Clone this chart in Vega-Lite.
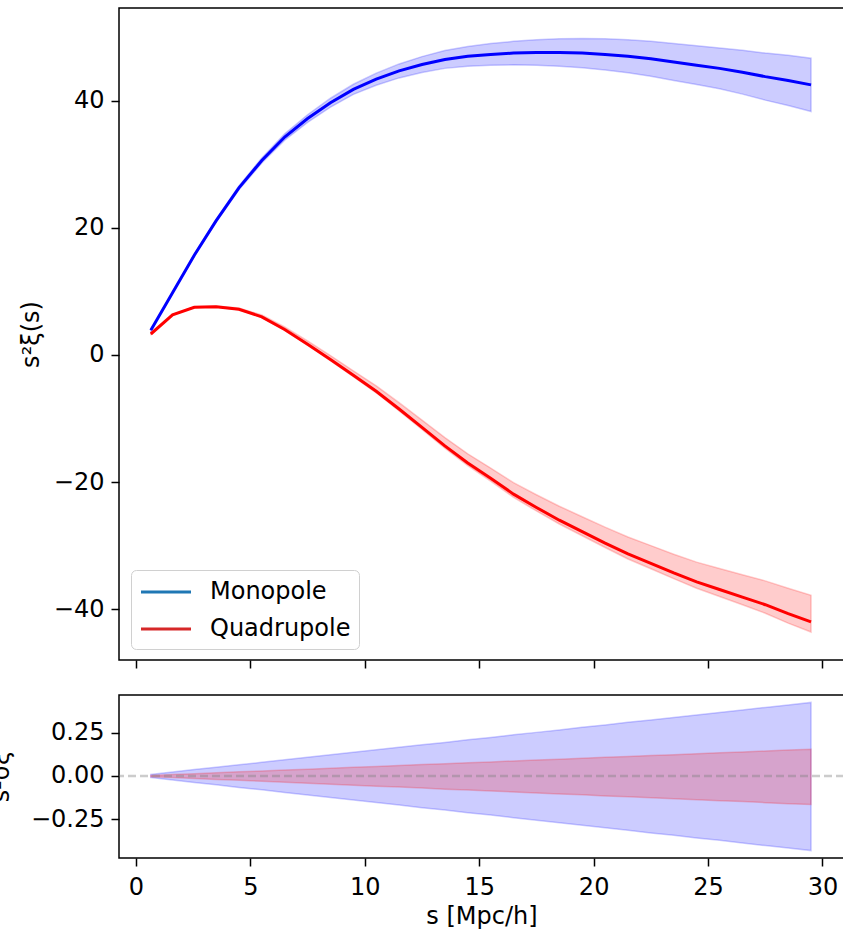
{
 "$schema": "https://vega.github.io/schema/vega-lite/v6.json",
 "padding": {"left": -12, "top": 7, "right": -3, "bottom": 0},
 "background": "white",
 "datasets": {
  "d": [
   {"s":0.65,"p":"Monopole","v":3.9,"lo":3.85,"hi":3.95,"rlo":-0.009,"rhi":0.009},
   {"s":1.6,"p":"Monopole","v":9.8,"lo":9.7,"hi":9.9,"rlo":-0.023,"rhi":0.023},
   {"s":2.55,"p":"Monopole","v":15.7,"lo":15.55,"hi":15.85,"rlo":-0.037,"rhi":0.037},
   {"s":3.5,"p":"Monopole","v":21.1,"lo":20.9,"hi":21.3,"rlo":-0.051,"rhi":0.05},
   {"s":4.5,"p":"Monopole","v":26.3,"lo":26.0,"hi":26.6,"rlo":-0.066,"rhi":0.065},
   {"s":5.5,"p":"Monopole","v":30.6,"lo":30.2,"hi":31.0,"rlo":-0.08,"rhi":0.079},
   {"s":6.5,"p":"Monopole","v":34.3,"lo":33.8,"hi":34.8,"rlo":-0.095,"rhi":0.094},
   {"s":7.5,"p":"Monopole","v":37.2,"lo":36.6,"hi":37.8,"rlo":-0.11,"rhi":0.108},
   {"s":8.5,"p":"Monopole","v":39.7,"lo":39.0,"hi":40.4,"rlo":-0.124,"rhi":0.122},
   {"s":9.5,"p":"Monopole","v":41.8,"lo":41.0,"hi":42.6,"rlo":-0.139,"rhi":0.137},
   {"s":10.5,"p":"Monopole","v":43.4,"lo":42.45,"hi":44.35,"rlo":-0.153,"rhi":0.151},
   {"s":11.5,"p":"Monopole","v":44.7,"lo":43.6,"hi":45.8,"rlo":-0.168,"rhi":0.166},
   {"s":12.5,"p":"Monopole","v":45.7,"lo":44.45,"hi":46.95,"rlo":-0.183,"rhi":0.18},
   {"s":13.5,"p":"Monopole","v":46.5,"lo":45.1,"hi":47.9,"rlo":-0.197,"rhi":0.194},
   {"s":14.5,"p":"Monopole","v":47.0,"lo":45.45,"hi":48.55,"rlo":-0.212,"rhi":0.209},
   {"s":15.5,"p":"Monopole","v":47.3,"lo":45.6,"hi":49.0,"rlo":-0.226,"rhi":0.223},
   {"s":16.5,"p":"Monopole","v":47.5,"lo":45.65,"hi":49.35,"rlo":-0.241,"rhi":0.238},
   {"s":17.5,"p":"Monopole","v":47.6,"lo":45.6,"hi":49.6,"rlo":-0.256,"rhi":0.252},
   {"s":18.5,"p":"Monopole","v":47.6,"lo":45.45,"hi":49.75,"rlo":-0.27,"rhi":0.266},
   {"s":19.5,"p":"Monopole","v":47.5,"lo":45.2,"hi":49.8,"rlo":-0.285,"rhi":0.281},
   {"s":20.5,"p":"Monopole","v":47.3,"lo":44.85,"hi":49.75,"rlo":-0.299,"rhi":0.295},
   {"s":21.5,"p":"Monopole","v":47.0,"lo":44.4,"hi":49.6,"rlo":-0.314,"rhi":0.31},
   {"s":22.5,"p":"Monopole","v":46.6,"lo":43.85,"hi":49.35,"rlo":-0.329,"rhi":0.324},
   {"s":23.5,"p":"Monopole","v":46.1,"lo":43.2,"hi":49.0,"rlo":-0.343,"rhi":0.338},
   {"s":24.5,"p":"Monopole","v":45.6,"lo":42.55,"hi":48.65,"rlo":-0.358,"rhi":0.353},
   {"s":25.5,"p":"Monopole","v":45.1,"lo":41.9,"hi":48.3,"rlo":-0.372,"rhi":0.367},
   {"s":26.5,"p":"Monopole","v":44.5,"lo":41.05,"hi":47.95,"rlo":-0.387,"rhi":0.382},
   {"s":27.5,"p":"Monopole","v":43.8,"lo":40.1,"hi":47.5,"rlo":-0.402,"rhi":0.396},
   {"s":28.5,"p":"Monopole","v":43.2,"lo":39.25,"hi":47.15,"rlo":-0.416,"rhi":0.41},
   {"s":29.5,"p":"Monopole","v":42.5,"lo":38.3,"hi":46.7,"rlo":-0.431,"rhi":0.425},
   {"s":0.65,"p":"Quadrupole","v":3.3,"lo":3.28,"hi":3.32,"rlo":-0.004,"rhi":0.003},
   {"s":1.6,"p":"Quadrupole","v":6.3,"lo":6.27,"hi":6.35,"rlo":-0.009,"rhi":0.008},
   {"s":2.55,"p":"Quadrupole","v":7.5,"lo":7.46,"hi":7.58,"rlo":-0.014,"rhi":0.013},
   {"s":3.5,"p":"Quadrupole","v":7.6,"lo":7.55,"hi":7.72,"rlo":-0.02,"rhi":0.018},
   {"s":4.5,"p":"Quadrupole","v":7.2,"lo":7.13,"hi":7.4,"rlo":-0.025,"rhi":0.024},
   {"s":5.5,"p":"Quadrupole","v":6.0,"lo":5.9,"hi":6.3,"rlo":-0.031,"rhi":0.029},
   {"s":6.5,"p":"Quadrupole","v":4.0,"lo":3.88,"hi":4.4,"rlo":-0.036,"rhi":0.034},
   {"s":7.5,"p":"Quadrupole","v":1.7,"lo":1.55,"hi":2.2,"rlo":-0.042,"rhi":0.039},
   {"s":8.5,"p":"Quadrupole","v":-0.7,"lo":-0.88,"hi":-0.1,"rlo":-0.048,"rhi":0.045},
   {"s":9.5,"p":"Quadrupole","v":-3.2,"lo":-3.4,"hi":-2.5,"rlo":-0.053,"rhi":0.05},
   {"s":10.5,"p":"Quadrupole","v":-5.7,"lo":-5.95,"hi":-4.85,"rlo":-0.059,"rhi":0.055},
   {"s":11.5,"p":"Quadrupole","v":-8.5,"lo":-8.8,"hi":-7.5,"rlo":-0.064,"rhi":0.06},
   {"s":12.5,"p":"Quadrupole","v":-11.4,"lo":-11.73,"hi":-10.25,"rlo":-0.07,"rhi":0.066},
   {"s":13.5,"p":"Quadrupole","v":-14.3,"lo":-14.67,"hi":-13.0,"rlo":-0.076,"rhi":0.071},
   {"s":14.5,"p":"Quadrupole","v":-17.0,"lo":-17.4,"hi":-15.55,"rlo":-0.081,"rhi":0.076},
   {"s":15.5,"p":"Quadrupole","v":-19.4,"lo":-19.85,"hi":-17.8,"rlo":-0.087,"rhi":0.081},
   {"s":16.5,"p":"Quadrupole","v":-21.9,"lo":-22.4,"hi":-20.1,"rlo":-0.092,"rhi":0.087},
   {"s":17.5,"p":"Quadrupole","v":-24.0,"lo":-24.55,"hi":-22.0,"rlo":-0.098,"rhi":0.092},
   {"s":18.5,"p":"Quadrupole","v":-26.0,"lo":-26.6,"hi":-23.8,"rlo":-0.104,"rhi":0.097},
   {"s":19.5,"p":"Quadrupole","v":-27.8,"lo":-28.45,"hi":-25.45,"rlo":-0.109,"rhi":0.102},
   {"s":20.5,"p":"Quadrupole","v":-29.6,"lo":-30.3,"hi":-27.1,"rlo":-0.115,"rhi":0.108},
   {"s":21.5,"p":"Quadrupole","v":-31.3,"lo":-32.1,"hi":-28.65,"rlo":-0.12,"rhi":0.113},
   {"s":22.5,"p":"Quadrupole","v":-32.8,"lo":-33.65,"hi":-30.0,"rlo":-0.126,"rhi":0.118},
   {"s":23.5,"p":"Quadrupole","v":-34.3,"lo":-35.2,"hi":-31.35,"rlo":-0.132,"rhi":0.123},
   {"s":24.5,"p":"Quadrupole","v":-35.7,"lo":-36.7,"hi":-32.6,"rlo":-0.137,"rhi":0.129},
   {"s":25.5,"p":"Quadrupole","v":-36.9,"lo":-38.0,"hi":-33.6,"rlo":-0.143,"rhi":0.134},
   {"s":26.5,"p":"Quadrupole","v":-38.1,"lo":-39.3,"hi":-34.6,"rlo":-0.148,"rhi":0.139},
   {"s":27.5,"p":"Quadrupole","v":-39.3,"lo":-40.65,"hi":-35.55,"rlo":-0.154,"rhi":0.144},
   {"s":28.5,"p":"Quadrupole","v":-40.7,"lo":-42.2,"hi":-36.7,"rlo":-0.16,"rhi":0.15},
   {"s":29.5,"p":"Quadrupole","v":-42.0,"lo":-43.6,"hi":-37.8,"rlo":-0.165,"rhi":0.155}
  ],
  "zero": [{"y": 0}]
 },
 "data": {"name": "d"},
 "vconcat": [
  {
   "width": 725,
   "height": 652,
   "layer": [
    {
     "transform": [{"filter": "datum.p === 'Monopole'"}],
     "mark": {"type": "area", "fill": "#0000ff", "fillOpacity": 0.2, "stroke": "#0000ff", "strokeOpacity": 0.2, "strokeWidth": 1.5},
     "encoding": {
      "x": {"field": "s", "type": "quantitative", "scale": {"domain": [-0.74, 30.94], "nice": false, "zero": false}, "axis": {"values": [0,5,10,15,20,25,30], "labels": false, "title": null}},
      "y": {"field": "lo", "type": "quantitative", "scale": {"domain": [-48, 54.6], "nice": false, "zero": false}, "axis": {"values": [-40,-20,0,20,40], "title": "s²ξ(s)", "titleX": -76}},
      "y2": {"field": "hi"}
     }
    },
    {
     "transform": [{"filter": "datum.p === 'Quadrupole'"}],
     "mark": {"type": "area", "fill": "#ff0000", "fillOpacity": 0.2, "stroke": "#ff0000", "strokeOpacity": 0.2, "strokeWidth": 1.5},
     "encoding": {
      "x": {"field": "s", "type": "quantitative"},
      "y": {"field": "lo", "type": "quantitative"},
      "y2": {"field": "hi"}
     }
    },
    {
     "transform": [{"filter": "datum.p === 'Monopole'"}],
     "mark": {"type": "line", "strokeWidth": 3, "color": "#0000ff"},
     "encoding": {
      "x": {"field": "s", "type": "quantitative"},
      "y": {"field": "v", "type": "quantitative"}
     }
    },
    {
     "transform": [{"filter": "datum.p === 'Quadrupole'"}],
     "mark": {"type": "line", "strokeWidth": 3, "color": "#ff0000"},
     "encoding": {
      "x": {"field": "s", "type": "quantitative"},
      "y": {"field": "v", "type": "quantitative"}
     }
    },
    {
     "mark": {"type": "line", "strokeWidth": 3, "opacity": 0},
     "encoding": {
      "x": {"field": "s", "type": "quantitative"},
      "y": {"field": "v", "type": "quantitative"},
      "color": {
       "field": "p", "type": "nominal",
       "scale": {"domain": ["Monopole", "Quadrupole"], "range": ["#1f77b4", "#d62728"]},
       "legend": {
        "orient": "none", "legendX": 12, "legendY": 562, "title": null,
        "symbolType": "M-2,0H2", "symbolSize": 625, "symbolStrokeWidth": 3, "symbolOpacity": 1,
        "symbolOffset": 13,
        "labelFontSize": 24, "labelColor": "black", "labelOffset": 30,
        "rowPadding": 11,
        "fillColor": "rgba(255,255,255,0.8)", "strokeColor": "#d0d0d0", "cornerRadius": 5, "padding": 8
       }
      }
     }
    }
   ]
  },
  {
   "width": 725,
   "height": 163,
   "layer": [
    {
     "transform": [{"filter": "datum.p === 'Monopole'"}],
     "mark": {"type": "area", "fill": "#0000ff", "fillOpacity": 0.2, "stroke": "#0000ff", "strokeOpacity": 0.2, "strokeWidth": 1.5},
     "encoding": {
      "x": {"field": "s", "type": "quantitative", "scale": {"domain": [-0.74, 30.94], "nice": false, "zero": false}, "axis": {"values": [0,5,10,15,20,25,30], "title": "s [Mpc/h]", "labelPadding": 9, "titlePadding": 5}},
      "y": {"field": "rlo", "type": "quantitative", "scale": {"domain": [-0.474, 0.468], "nice": false, "zero": false}, "axis": {"values": [-0.25, 0, 0.25], "format": ".2f", "title": "s²σξ", "titleX": -106}},
      "y2": {"field": "rhi"}
     }
    },
    {
     "transform": [{"filter": "datum.p === 'Quadrupole'"}],
     "mark": {"type": "area", "fill": "#ff0000", "fillOpacity": 0.2, "stroke": "#ff0000", "strokeOpacity": 0.2, "strokeWidth": 1.5},
     "encoding": {
      "x": {"field": "s", "type": "quantitative"},
      "y": {"field": "rlo", "type": "quantitative"},
      "y2": {"field": "rhi"}
     }
    },
    {
     "data": {"name": "zero"},
     "mark": {"type": "rule", "stroke": "#808080", "strokeOpacity": 0.4, "strokeDash": [8, 4], "strokeWidth": 2.5},
     "encoding": {"y": {"field": "y", "type": "quantitative"}}
    }
   ]
  }
 ],
 "spacing": 35,
 "bounds": "flush",
 "config": {
  "font": "DejaVu Sans",
  "view": {"stroke": "black", "strokeWidth": 1.5},
  "axis": {"grid": false, "domain": false, "tickColor": "black", "tickWidth": 1.5, "tickSize": 8, "labelFontSize": 24, "labelColor": "black", "titleFontSize": 24, "titleFontWeight": "normal", "titleColor": "black", "labelPadding": 7, "labelFont": "DejaVu Sans", "titleFont": "DejaVu Sans"},
  "legend": {"labelFont": "DejaVu Sans"}
 }
}
